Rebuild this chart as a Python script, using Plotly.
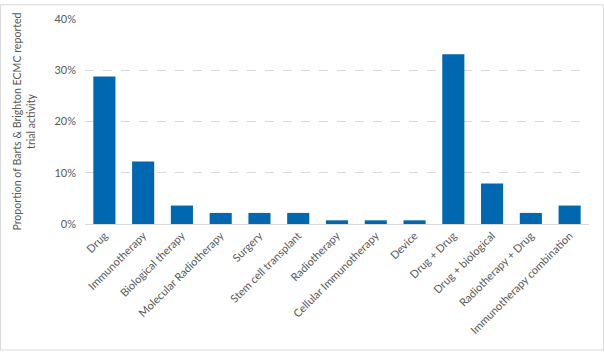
import plotly.graph_objects as go

categories = ["Drug", "Immunotherapy", "Biological therapy", "Molecular Radiotherapy",
              "Surgery", "Stem cell transplant", "Radiotherapy", "Cellular Immunotherapy",
              "Device", "Drug + Drug", "Drug + biological", "Radiotherapy + Drug",
              "Immunotherapy combination"]
values = [0.288, 0.122, 0.036, 0.0216, 0.0216, 0.0216, 0.0072, 0.0072, 0.0072,
          0.331, 0.079, 0.0216, 0.036]
y_ticks = [0, 0.1, 0.2, 0.3, 0.4]

W, H = 604, 353
ml, mr, mt, mb = 85, 15, 15, 129

fig = go.Figure(go.Bar(x=categories, y=values, marker_color="#0067B1",
                       marker_line_width=0))
fig.update_layout(
    width=W, height=H,
    margin=dict(l=ml, r=mr, t=mt, b=mb),
    paper_bgcolor="white", plot_bgcolor="white",
    bargap=0.43,
    font=dict(family="Lato, Open Sans, sans-serif", size=11, color="#595959"),
    showlegend=False,
)
fig.update_xaxes(tickangle=-45, showline=True, linecolor="#d9d9d9", linewidth=1,
                 ticks="", tickfont=dict(size=11, color="#595959"))
fig.update_yaxes(range=[0, 0.4], tickvals=y_ticks, tickformat=".0%",
                 showgrid=True, gridcolor="#d9d9d9", griddash="dash", gridwidth=1,
                 zeroline=False, ticks="", ticklabelstandoff=8,
                 tickfont=dict(size=11, color="#595959"),
                 title=dict(text="Proportion of Barts & Brighton ECMC reported<br>trial activity",
                            font=dict(size=10.6, color="#595959"), standoff=16))
pw = W - ml - mr
ph = H - mt - mb
fig.add_shape(type="rect", xref="paper", yref="paper",
              x0=(-ml + 0.5) / pw, x1=1 + (mr - 0.5) / pw,
              y0=(-mb + 0.5) / ph, y1=1 + (mt - 0.5) / ph,
              line=dict(color="#d9d9d9", width=1))
fig.write_html("out.html")
